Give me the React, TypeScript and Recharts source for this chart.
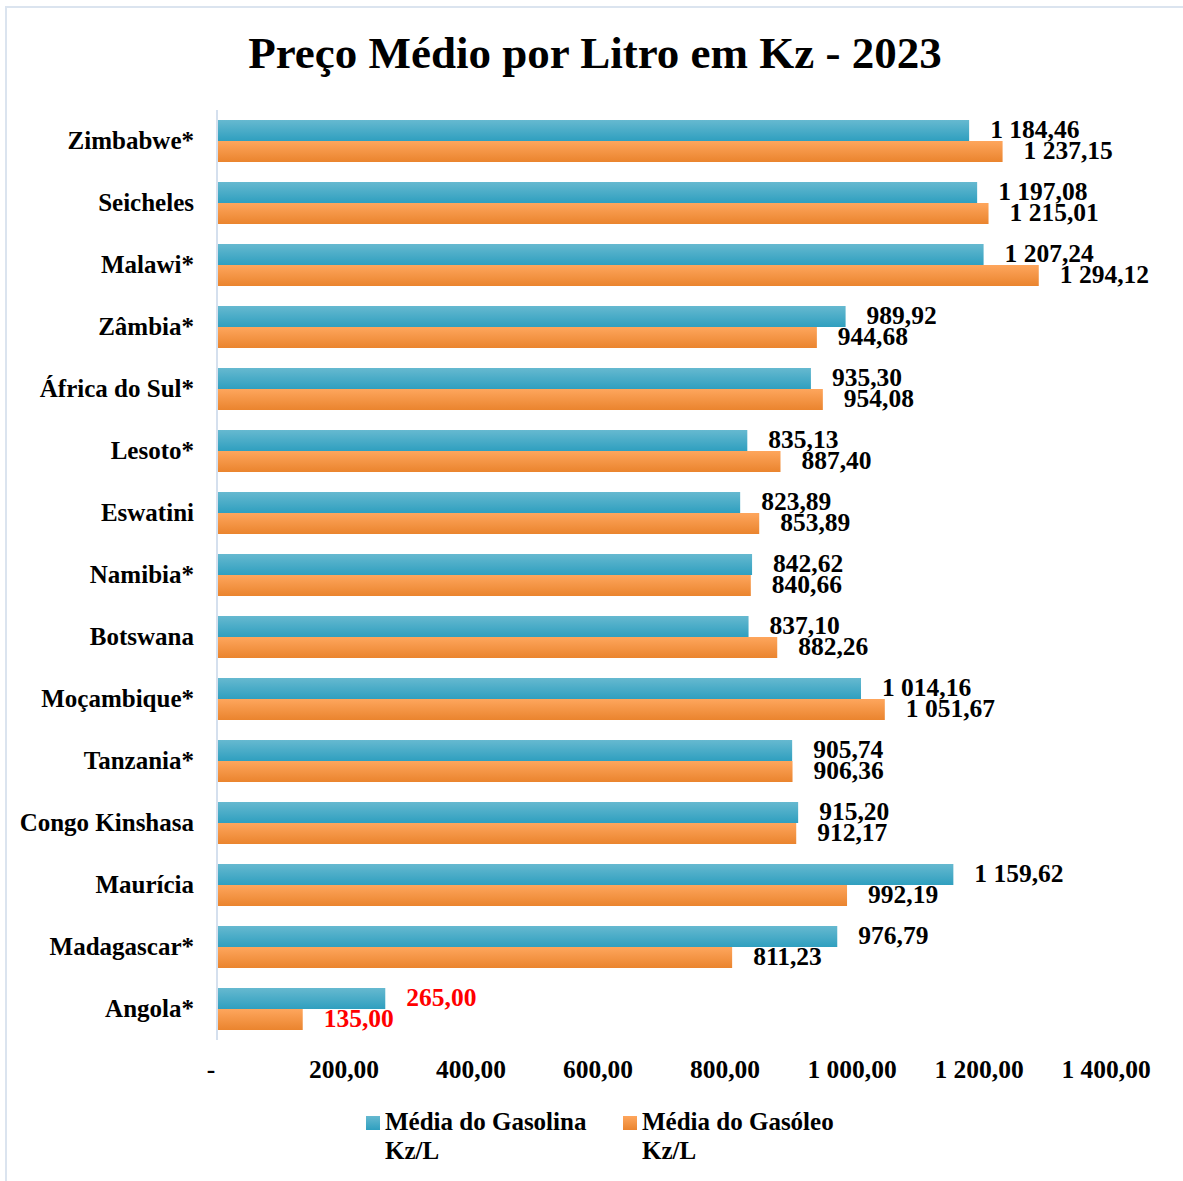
import { BarChart, Bar, XAxis, YAxis, LabelList } from 'recharts'

const countries = [
  'Zimbabwe*', 'Seicheles', 'Malawi*', 'Zâmbia*', 'África do Sul*', 'Lesoto*', 'Eswatini', 'Namibia*',
  'Botswana', 'Moçambique*', 'Tanzania*', 'Congo Kinshasa', 'Maurícia', 'Madagascar*', 'Angola*',
]
const gasolina = [
  1184.46, 1197.08, 1207.24, 989.92, 935.3, 835.13, 823.89, 842.62,
  837.1, 1014.16, 905.74, 915.2, 1159.62, 976.79, 265.0,
]
const gasoleo = [
  1237.15, 1215.01, 1294.12, 944.68, 954.08, 887.4, 853.89, 840.66,
  882.26, 1051.67, 906.36, 912.17, 992.19, 811.23, 135.0,
]
const xTicks = [0, 200, 400, 600, 800, 1000, 1200, 1400]
const highlight = 'Angola*'

const FONT = '"Liberation Serif", "DejaVu Serif", serif'

const data = countries.map((name, i) => ({ name, gasolina: gasolina[i], gasoleo: gasoleo[i] }))

// 1234.5 -> "1 234,50", 0 -> "-"
function fmt(v: number) {
  if (v === 0) return '-'
  const [int, dec] = v.toFixed(2).split('.')
  return int.replace(/\B(?=(\d{3})+(?!\d))/g, ' ') + ',' + dec
}

function ValueLabel(props: any) {
  const { x, y, width, height, value, index } = props
  const red = countries[index] === highlight
  return (
    <text x={x + width + 21} y={y + height / 2 + 2} dominantBaseline="middle"
      fontFamily={FONT} fontWeight="bold" fontSize={25.5} fill={red ? '#ff0000' : '#000'}>
      {fmt(value)}
    </text>
  )
}

function XTick({ x, y, payload }: any) {
  return (
    <text x={payload.value === 0 ? x - 6 : x} y={y} dy="0.71em" textAnchor="middle"
      fontFamily={FONT} fontWeight="bold" fontSize={25.5} fill="#000">
      {fmt(payload.value)}
    </text>
  )
}

function YTick({ x, y, payload }: any) {
  return (
    <text x={x} y={y + 2} dominantBaseline="middle" textAnchor="end"
      fontFamily={FONT} fontWeight="bold" fontSize={25} fill="#000">
      {payload.value}
    </text>
  )
}

const legendItems = [
  { label: 'Média do Gasolina Kz/L', from: '#66b9d0', to: '#2f9fbf', left: 366 },
  { label: 'Média do Gasóleo Kz/L', from: '#fea65d', to: '#ea842e', left: 623 },
]

export default function App() {
  return (
    <div style={{ position: 'absolute', left: 0, top: 0, width: 1183, height: 1181, background: '#fff', fontFamily: FONT }}>
      <div style={{ position: 'absolute', left: 5, top: 6, width: 1180, height: 1180, border: '2px solid #dbe4ef', boxSizing: 'border-box' }} />
      <div style={{ position: 'absolute', left: 0, top: 27, width: 1190, textAlign: 'center', fontSize: 45, fontWeight: 'bold', color: '#000' }}>
        Preço Médio por Litro em Kz - 2023
      </div>
      <div style={{ position: 'absolute', left: 0, top: 0 }}>
        <BarChart width={1183} height={1181} data={data} layout="vertical"
          margin={{ top: 110, right: 77, bottom: 81, left: 0 }} barGap={0} barSize={21}>
          <defs>
            <linearGradient id="gTeal" x1="0" y1="0" x2="0" y2="1">
              <stop offset="0%" stopColor="#66b9d0" />
              <stop offset="100%" stopColor="#2f9fbf" />
            </linearGradient>
            <linearGradient id="gOrange" x1="0" y1="0" x2="0" y2="1">
              <stop offset="0%" stopColor="#fea65d" />
              <stop offset="100%" stopColor="#ea842e" />
            </linearGradient>
          </defs>
          <XAxis type="number" domain={[0, 1400]} ticks={xTicks} axisLine={false} tickLine={false}
            tickSize={0} tickMargin={20} height={60} tick={<XTick />} interval={0} />
          <YAxis type="category" dataKey="name" width={217} axisLine={{ stroke: '#d5e0ee', strokeWidth: 2 }}
            tickLine={false} tickSize={0} tickMargin={23} tick={<YTick />} interval={0} />
          <Bar dataKey="gasolina" fill="url(#gTeal)" isAnimationActive={false}>
            <LabelList dataKey="gasolina" content={<ValueLabel />} />
          </Bar>
          <Bar dataKey="gasoleo" fill="url(#gOrange)" isAnimationActive={false}>
            <LabelList dataKey="gasoleo" content={<ValueLabel />} />
          </Bar>
        </BarChart>
      </div>
      {legendItems.map(it => (
        <div key={it.label} style={{ position: 'absolute', left: it.left, top: 1107, display: 'flex', alignItems: 'flex-start' }}>
          <div style={{ width: 14, height: 14, marginTop: 9, marginRight: 5, background: `linear-gradient(${it.from}, ${it.to})` }} />
          <div style={{ width: 215, fontSize: 25, fontWeight: 'bold', lineHeight: '29px', color: '#000' }}>{it.label}</div>
        </div>
      ))}
    </div>
  )
}
